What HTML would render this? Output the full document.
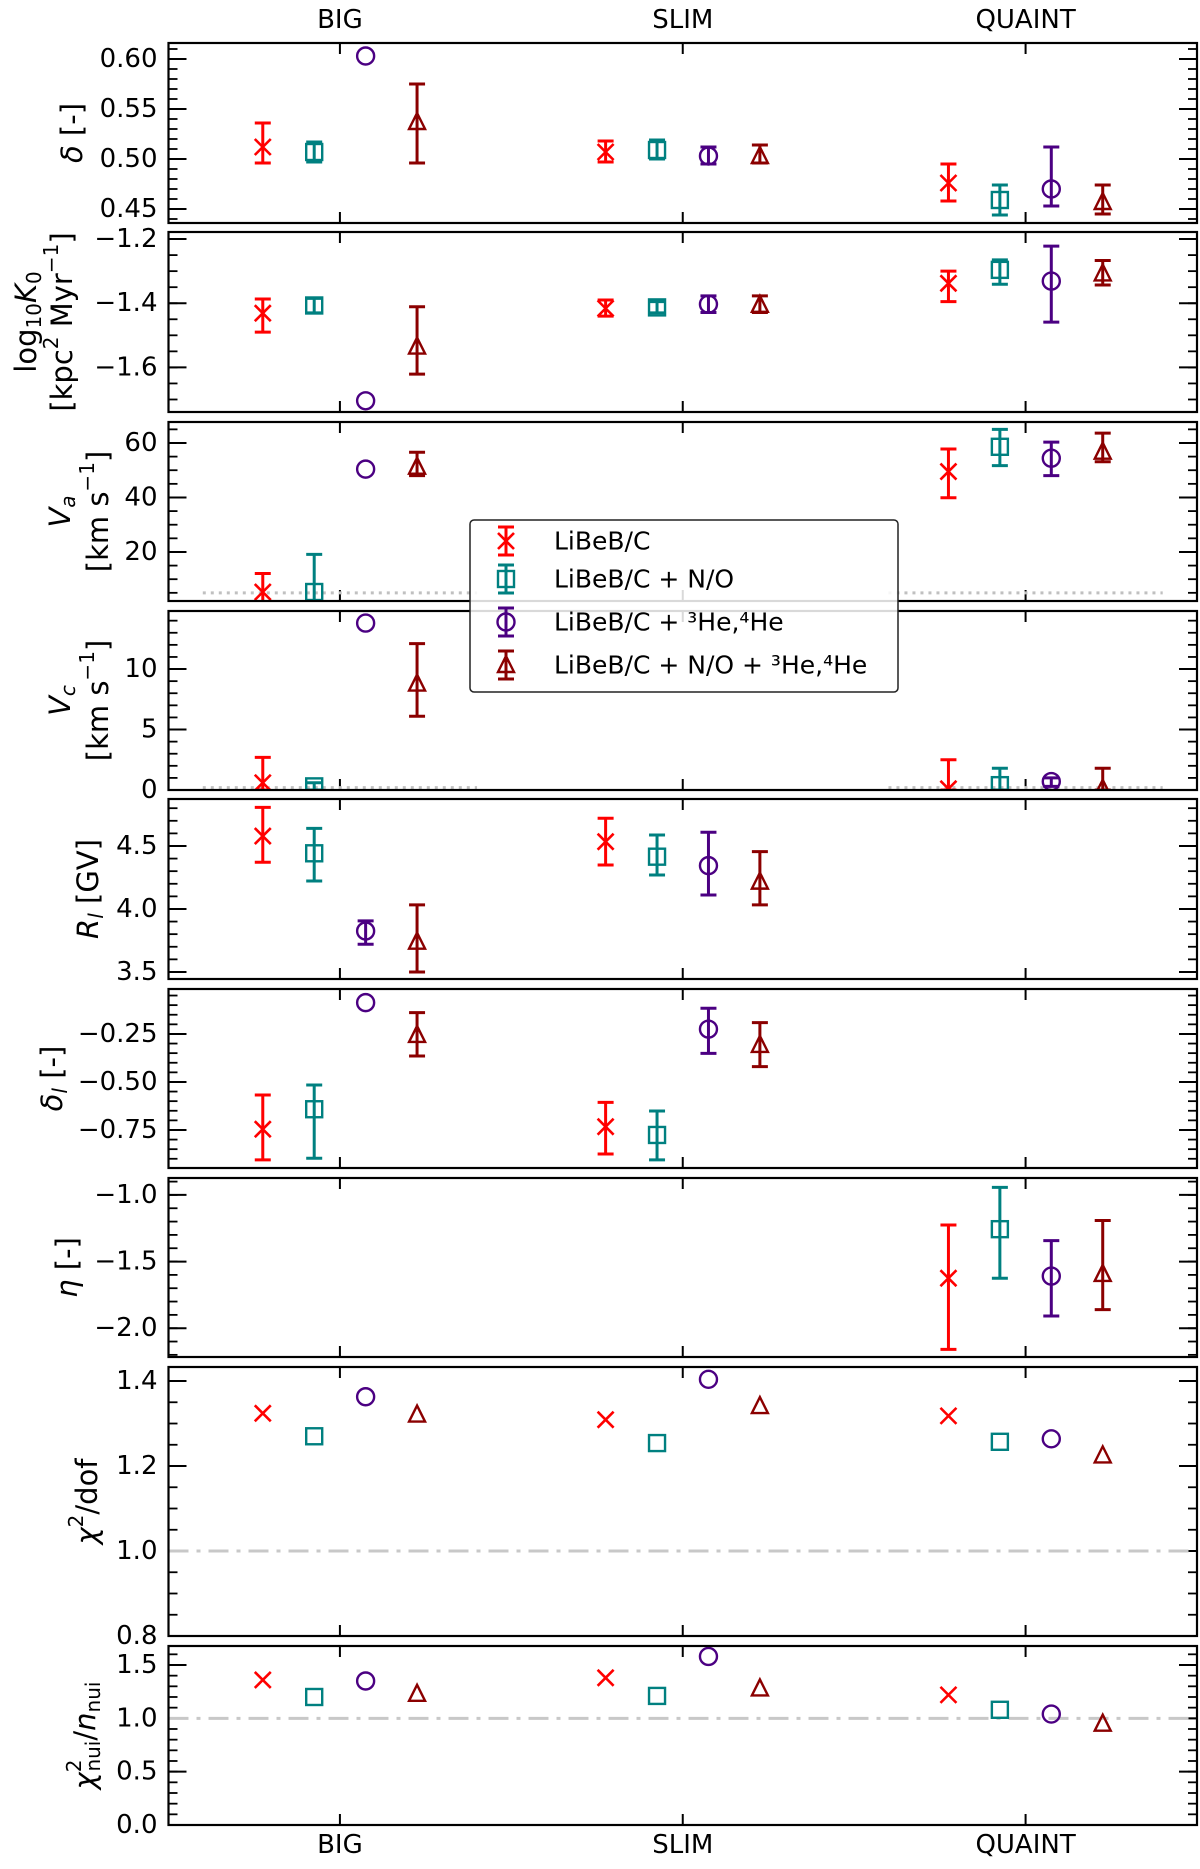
<!DOCTYPE html>
<html><head><meta charset="utf-8"><style>
html,body{margin:0;padding:0;background:#fff}
svg{display:block;font-family:"DejaVu Sans","Liberation Sans",sans-serif}
</style></head><body>
<svg id="chart" width="1200" height="1869" viewBox="0 0 1200 1869" xmlns="http://www.w3.org/2000/svg">
<g id="panels"></g>
<g id="legend"></g>
</svg>
<script>
const categories = ['BIG','SLIM','QUAINT'];
const seriesNames = ['LiBeB/C','LiBeB/C + N/O','LiBeB/C + ³He,⁴He','LiBeB/C + N/O + ³He,⁴He'];

const deltaVal = [[0.512,0.507,0.476],[0.507,0.509,0.459],[0.603,0.503,0.470],[0.537,0.503,0.457]];
const deltaLo  = [[0.496,0.497,0.458],[0.497,0.500,0.444],[null,0.495,0.453],[0.496,0.496,0.445]];
const deltaHi  = [[0.536,0.518,0.495],[0.517,0.519,0.474],[null,0.512,0.512],[0.575,0.514,0.474]];

const k0Val = [[-1.431,-1.416,-1.338],[-1.407,-1.413,-1.296],[-1.704,-1.403,-1.331],[-1.535,-1.405,-1.307]];
const k0Lo  = [[-1.490,-1.440,-1.395],[-1.430,-1.430,-1.341],[null,-1.429,-1.459],[-1.621,-1.429,-1.343]];
const k0Hi  = [[-1.387,-1.390,-1.300],[-1.385,-1.395,-1.265],[null,-1.377,-1.222],[-1.411,-1.377,-1.267]];

const vaVal = [[5.3,null,49.5],[5.3,null,58.6],[50.4,null,54.4],[51.3,null,56.8]];
const vaLo  = [[0,null,39.9],[0,null,51.7],[null,null,48.0],[48.0,null,53.1]];
const vaHi  = [[12.1,null,57.8],[19.1,null,65.0],[null,null,60.3],[56.6,null,63.6]];

const vcVal = [[0.6,null,0.1],[0.3,null,0.4],[13.8,null,0.7],[8.8,null,0.1]];
const vcLo  = [[0,null,0],[0,null,0],[null,null,0.3],[6.1,null,0]];
const vcHi  = [[2.7,null,2.5],[0.6,null,1.8],[null,null,1.0],[12.1,null,1.8]];

const rlVal = [[4.579,4.534,null],[4.442,4.415,null],[3.825,4.344,null],[3.74,4.217,null]];
const rlLo  = [[4.371,4.349,null],[4.222,4.270,null],[3.72,4.111,null],[3.50,4.032,null]];
const rlHi  = [[4.807,4.720,null],[4.640,4.587,null],[3.905,4.609,null],[4.032,4.455,null]];

const dlVal = [[-0.746,-0.733,null],[-0.642,-0.776,null],[-0.087,-0.225,null],[-0.255,-0.307,null]];
const dlLo  = [[-0.906,-0.875,null],[-0.897,-0.906,null],[null,-0.351,null],[-0.365,-0.420,null]];
const dlHi  = [[-0.568,-0.606,null],[-0.516,-0.651,null],[null,-0.116,null],[-0.139,-0.191,null]];

const etaVal = [[null,null,-1.625],[null,null,-1.257],[null,null,-1.609],[null,null,-1.593]];
const etaLo  = [[null,null,-2.159],[null,null,-1.625],[null,null,-1.908],[null,null,-1.861]];
const etaHi  = [[null,null,-1.226],[null,null,-0.943],[null,null,-1.343],[null,null,-1.192]];

const chiVal = [[1.324,1.309,1.318],[1.270,1.254,1.257],[1.363,1.404,1.264],[1.321,1.341,1.225]];
const chiNuiVal = [[1.36,1.38,1.22],[1.20,1.21,1.08],[1.35,1.58,1.04],[1.23,1.28,0.95]];

const deltaTicks = ['0.45','0.50','0.55','0.60'];
const k0Ticks = ['−1.6','−1.4','−1.2'];
const vaTicks = ['20','40','60'];
const vcTicks = ['0','5','10'];
const rlTicks = ['3.5','4.0','4.5'];
const dlTicks = ['−0.75','−0.50','−0.25'];
const etaTicks = ['−2.0','−1.5','−1.0'];
const chiTicks = ['0.8','1.0','1.2','1.4'];
const chiNuiTicks = ['0.0','0.5','1.0','1.5'];

const NS='http://www.w3.org/2000/svg';
const colors=['#ff0000','#008080','#4b0082','#8b0000'];
const markers=['x','s','o','t'];
const X0=168.5, X1=1197, XMIN=-0.5, XMAX=2.5;
const offsets=[-0.225,-0.075,0.075,0.225];
function xs(v){return X0+(v-XMIN)/(XMAX-XMIN)*(X1-X0);}
function el(tag,attrs,parent){const e=document.createElementNS(NS,tag);for(const k in attrs)e.setAttribute(k,attrs[k]);if(parent)parent.appendChild(e);return e;}
function num(s){return parseFloat(s.replace('−','-'));}

const panels=[
 {key:'delta',top:43,bot:223,ymin:0.436,ymax:0.616,ticks:deltaTicks,minor:0.01,val:deltaVal,lo:deltaLo,hi:deltaHi,label:[[{t:'δ',i:1},{t:'  [-]'}]],lx:[72]},
 {key:'k0',top:232,bot:412,ymin:-1.739,ymax:-1.178,ticks:k0Ticks,minor:0.05,val:k0Val,lo:k0Lo,hi:k0Hi,label:[[{t:'log'},{t:'10',sub:1},{t:'K',i:1},{t:'0',sub:1}],[{t:'[kpc'},{t:'2',sup:1},{t:' Myr'},{t:'−1',sup:1},{t:']'}]],lx:[26,62]},
 {key:'va',top:422,bot:601,ymin:2.0,ymax:67.7,ticks:vaTicks,minor:5,val:vaVal,lo:vaLo,hi:vaHi,prior:5,label:[[{t:'V',i:1},{t:'a',sub:1,i:1}],[{t:'[km s'},{t:'−1',sup:1},{t:']'}]],lx:[60,98]},
 {key:'vc',top:611,bot:790,ymin:0,ymax:14.8,ticks:vcTicks,minor:1,val:vcVal,lo:vcLo,hi:vcHi,prior:0.2,label:[[{t:'V',i:1},{t:'c',sub:1,i:1}],[{t:'[km s'},{t:'−1',sup:1},{t:']'}]],lx:[60,98]},
 {key:'rl',top:799,bot:979,ymin:3.444,ymax:4.873,ticks:rlTicks,minor:0.1,val:rlVal,lo:rlLo,hi:rlHi,label:[[{t:'R',i:1},{t:'l',sub:1,i:1},{t:' [GV]'}]],lx:[88]},
 {key:'dl',top:989,bot:1168,ymin:-0.948,ymax:-0.016,ticks:dlTicks,minor:0.05,val:dlVal,lo:dlLo,hi:dlHi,label:[[{t:'δ',i:1},{t:'l',sub:1,i:1},{t:' [-]'}]],lx:[52]},
 {key:'eta',top:1178,bot:1357,ymin:-2.216,ymax:-0.873,ticks:etaTicks,minor:0.1,val:etaVal,lo:etaLo,hi:etaHi,label:[[{t:'η',i:1},{t:' [-]'}]],lx:[67]},
 {key:'chi',top:1367,bot:1636,ymin:0.8,ymax:1.433,ticks:chiTicks,minor:0.05,val:chiVal,ref:1.0,label:[[{t:'χ',i:1},{t:'2',sup:1},{t:'/dof'}]],lx:[87]},
 {key:'chinui',top:1646,bot:1825,ymin:0,ymax:1.678,ticks:chiNuiTicks,minor:0.1,val:chiNuiVal,ref:1.0,label:[[{t:'χ',i:1},{t:'2',sup:1},{t:'nui',sub:1,back:12},{t:'/'},{t:'n',i:1},{t:'nui',sub:1}]],lx:[85]}
];

function drawMarker(g,type,cx,cy,color){
  const r=8;
  if(type==='x'){el('path',{d:`M${cx-r} ${cy-r}L${cx+r} ${cy+r}M${cx-r} ${cy+r}L${cx+r} ${cy-r}`,stroke:color,'stroke-width':2.6,fill:'none'},g);}
  else if(type==='s'){el('rect',{x:cx-r,y:cy-r,width:2*r,height:2*r,stroke:color,'stroke-width':2.4,fill:'none'},g);}
  else if(type==='o'){el('circle',{cx:cx,cy:cy,r:r+0.5,stroke:color,'stroke-width':2.4,fill:'none'},g);}
  else {el('path',{d:`M${cx} ${cy-r-1}L${cx+r} ${cy+r-1}L${cx-r} ${cy+r-1}Z`,stroke:color,'stroke-width':2.4,fill:'none'},g);}
}
function drawErr(g,cx,y1,y2,color){
  el('line',{x1:cx,x2:cx,y1:y1,y2:y2,stroke:color,'stroke-width':3},g);
  el('line',{x1:cx-8,x2:cx+8,y1:y1,y2:y1,stroke:color,'stroke-width':3},g);
  el('line',{x1:cx-8,x2:cx+8,y1:y2,y2:y2,stroke:color,'stroke-width':3},g);
}
function addLabel(parent,parts,x,cy,name){
  const t=el('text',{x:0,y:0,'font-size':29,'text-anchor':'middle','dominant-baseline':'central',transform:`translate(${x},${cy}) rotate(-90)`},parent);
  
  
  let shift=0;
  parts.forEach(p=>{
    const ts=el('tspan',{},t);
    ts.textContent=p.t;
    if(p.i)ts.setAttribute('font-style','italic');
    let target=0;
    if(p.sub){ts.setAttribute('font-size',20);target=8;}
    if(p.sup){ts.setAttribute('font-size',20);target=-11;}
    if(target!==shift){ts.setAttribute('dy',target-shift);shift=target;}
    if(p.back)ts.setAttribute('dx',-p.back);
  });
}

const root=document.getElementById('panels');
panels.forEach((P,pi)=>{
  const g=el('g',{},root);
  
  
  const ys=v=>P.bot-(v-P.ymin)/(P.ymax-P.ymin)*(P.bot-P.top);
  const clipId='clip'+pi;
  const cp=el('clipPath',{id:clipId},g);
  el('rect',{x:X0,y:P.top,width:X1-X0,height:P.bot-P.top},cp);
  const mt=el('g',{stroke:'#000','stroke-width':1.8},g);
  
  
  const start=Math.ceil(P.ymin/P.minor-1e-6);
  for(let k=start;k*P.minor<=P.ymax+1e-9;k++){
    const y=ys(k*P.minor);
    if(y<P.top+1||y>P.bot-1)continue;
    el('line',{x1:X0,x2:X0+9,y1:y,y2:y},mt);
    el('line',{x1:X1-9,x2:X1,y1:y,y2:y},mt);
  }
  P.ticks.forEach(lab=>{
    const v=num(lab),y=ys(v);
    const tk=el('line',{x1:X0,x2:X0+18,y1:y,y2:y,stroke:'#000','stroke-width':2},g);
    
    
    el('line',{x1:X1-18,x2:X1,y1:y,y2:y,stroke:'#000','stroke-width':2},g);
    const t=el('text',{x:X0-11,y:y,'font-size':26,'text-anchor':'end','dominant-baseline':'central'},g);
    t.textContent=lab;
    
    
  });
  categories.forEach((c,ci)=>{
    const x=xs(ci);
    el('line',{x1:x,x2:x,y1:P.top,y2:P.top+11,stroke:'#000','stroke-width':2},g);
    el('line',{x1:x,x2:x,y1:P.bot-11,y2:P.bot,stroke:'#000','stroke-width':2},g);
  });
  const dg=el('g',{'clip-path':`url(#${clipId})`},g);
  if(P.prior!==undefined){
    [0,2].forEach(ci=>{
      const pl=el('line',{x1:xs(ci-0.4),x2:xs(ci+0.4),y1:ys(P.prior),y2:ys(P.prior),stroke:'#c0c0c0','stroke-width':3,'stroke-dasharray':'3 5'},dg);
      
      
    });
  }
  if(P.ref!==undefined){
    const rl=el('line',{x1:X0,x2:X1,y1:ys(P.ref),y2:ys(P.ref),stroke:'#c8c8c8','stroke-width':3,'stroke-dasharray':'20 8 4 8'},dg);
    
    
  }
  P.val.forEach((arr,s)=>{
    arr.forEach((v,ci)=>{
      if(v===null)return;
      const cx=xs(ci+offsets[s]);
      const pg=el('g',{},dg);
      
      
      if(P.lo&&P.lo[s][ci]!==null)drawErr(pg,cx,ys(P.hi[s][ci]),ys(P.lo[s][ci]),colors[s]);
      drawMarker(pg,markers[s],cx,ys(v),colors[s]);
    });
  });
  const fr=el('rect',{x:X0,y:P.top,width:X1-X0,height:P.bot-P.top,fill:'none',stroke:'#000','stroke-width':2.2},g);
  
  
  const cy=(P.top+P.bot)/2;
  P.label.forEach((ln,li)=>addLabel(g,ln,P.lx[li],cy,'y-axis-title-'+P.key));
});
categories.forEach((c,ci)=>{
  const t=el('text',{x:xs(ci),y:20,'font-size':26,'text-anchor':'middle','dominant-baseline':'central'},root);
  t.textContent=c;
  
  
  const b=el('text',{x:xs(ci),y:1845,'font-size':26,'text-anchor':'middle','dominant-baseline':'central'},root);
  b.textContent=c;
  
  
});
const lg=document.getElementById('legend');
const lb=el('rect',{x:470,y:520,width:428,height:172,rx:4,fill:'#fff','fill-opacity':0.85,stroke:'#222','stroke-width':1.5},lg);


const ly=[541,579,622,665];
seriesNames.forEach((n,s)=>{
  const eg=el('g',{},lg);
  
  
  drawErr(eg,506,ly[s]-14,ly[s]+14,colors[s]);
  drawMarker(eg,markers[s],506,ly[s],colors[s]);
  const t=el('text',{x:554,y:ly[s],'font-size':25,'dominant-baseline':'central'},eg);
  t.textContent=n;
});
</script>
</body></html>
